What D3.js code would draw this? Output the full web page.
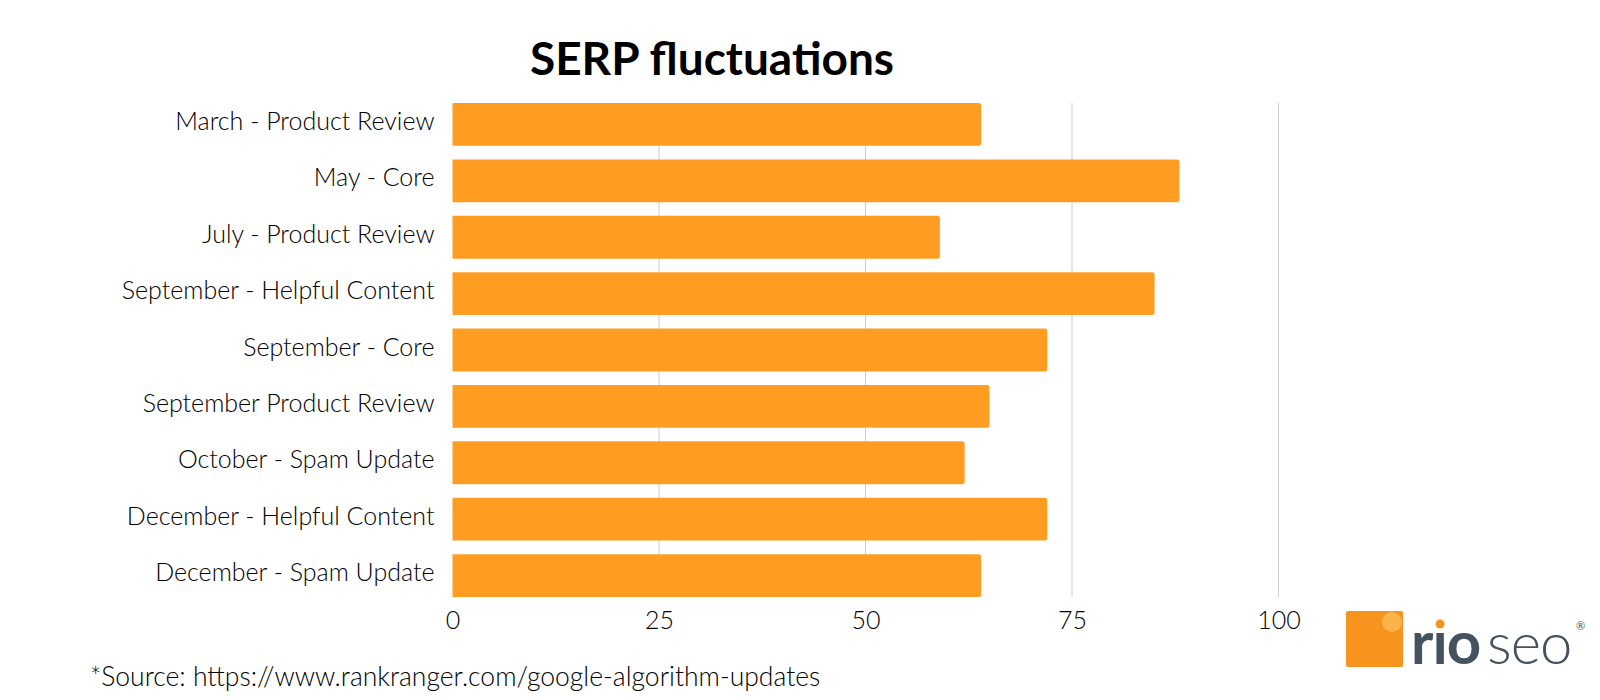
<!DOCTYPE html>
<html><head><meta charset="utf-8">
<script src="https://cdn.jsdelivr.net/npm/d3@7"></script>
<style>body{margin:0;background:#fff;}svg{display:block;}</style>
</head><body>
<script>
const categories = ["March - Product Review","May - Core","July - Product Review","September - Helpful Content","September - Core","September Product Review","October - Spam Update","December - Helpful Content","December - Spam Update"];
const values = [64, 88, 59, 85, 72, 65, 62, 72, 64];
const tickValues = [0, 25, 50, 75, 100];
const titleText = "SERP fluctuations";
const sourceText = "*Source: https://www.rankranger.com/google-algorithm-updates";

const W = 1600, H = 700;
const svg = d3.select("body").append("svg").attr("width", W).attr("height", H);
const labelFont = "Lato, 'Noto Sans', sans-serif";

const x = d3.scaleLinear().domain([0, 100]).range([452.5, 1278.5]);
const y = d3.scaleBand().domain(categories).range([103, 597]).paddingInner(0.24).paddingOuter(0);

// gridlines
svg.append("g").selectAll("line").data(tickValues.filter(d => d > 0)).join("line")
  .attr("x1", d => x(d)).attr("x2", d => x(d))
  .attr("y1", y.range()[0]).attr("y2", y.range()[1])
  .attr("stroke", "#cccccc").attr("stroke-width", 1);

// bars
svg.append("g").selectAll("path").data(values).join("path")
  .attr("fill", "#FF9D23")
  .attr("d", (v, i) => {
    const x0 = x(0), x1 = x(v), y0 = y(categories[i]), h = y.bandwidth(), r = 2.5;
    return `M${x0},${y0}H${x1 - r}Q${x1},${y0} ${x1},${y0 + r}V${y0 + h - r}Q${x1},${y0 + h} ${x1 - r},${y0 + h}H${x0}Z`;
  });

// category labels
const yAxis = d3.axisLeft(y).tickSize(0).tickPadding(18);
const ya = svg.append("g").attr("transform", `translate(${x(0)},0)`).call(yAxis);
ya.select(".domain").remove();
ya.selectAll("text").attr("font-family", labelFont).attr("font-weight", 300)
  .attr("font-size", 25).attr("fill", "#000").attr("dy", "0.22em");

// x axis labels
const xAxis = d3.axisBottom(x).tickValues(tickValues).tickSize(0).tickPadding(14);
const xa = svg.append("g").attr("transform", `translate(0,${y.range()[1]})`).call(xAxis);
xa.select(".domain").remove();
xa.selectAll("text").attr("font-family", labelFont).attr("font-weight", 300)
  .attr("font-size", 25).attr("fill", "#000");

// title
svg.append("text").attr("x", 712).attr("y", 75).attr("text-anchor", "middle")
  .attr("font-family", labelFont).attr("font-weight", 700).attr("font-size", 46)
  .attr("fill", "#000").text(titleText);

// source
svg.append("text").attr("x", 90).attr("y", 686)
  .attr("font-family", labelFont).attr("font-weight", 300).attr("font-size", 26.5)
  .attr("fill", "#000").text(sourceText);

// logo
const logo = svg.append("g");
logo.append("rect").attr("x", 1346).attr("y", 611).attr("width", 57).attr("height", 56).attr("rx", 2).attr("fill", "#F7941D");
logo.append("circle").attr("cx", 1392).attr("cy", 622).attr("r", 10).attr("fill", "#FBB652").attr("opacity", 0.9);
logo.append("text").attr("x", 1411).attr("y", 664).attr("font-family", "Lato, sans-serif").attr("font-weight", 700)
  .attr("font-size", 60).attr("letter-spacing", -1).attr("fill", "#44525F").text("rıo");
logo.append("circle").attr("cx", 1440).attr("cy", 624).attr("r", 4.5).attr("fill", "#F7941D");
logo.append("text").attr("x", 1487).attr("y", 664).attr("font-family", "Lato, sans-serif").attr("font-weight", 300)
  .attr("font-size", 58).attr("letter-spacing", -1).attr("fill", "#44525F").text("seo");
logo.append("text").attr("x", 1576).attr("y", 630).attr("text-anchor", "start").attr("font-family", "Lato, sans-serif")
  .attr("font-size", 11).attr("fill", "#44525F").text("®");
</script>
</body></html>
